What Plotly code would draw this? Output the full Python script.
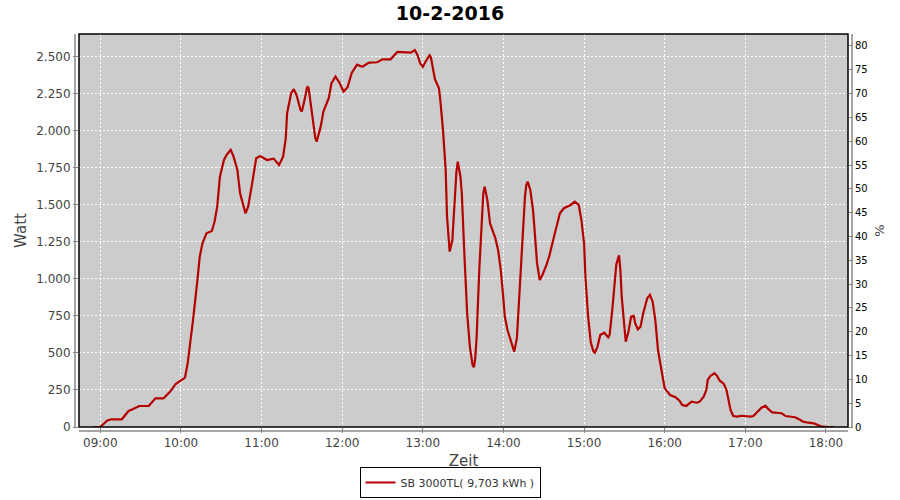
import plotly.graph_objects as go

# Ertrag SB 3000TL am 10.02.2016
day = "2016-02-10"
times = [
    "08:55", "09:00", "09:05", "09:08", "09:16", "09:21", "09:24", "09:29", "09:36", "09:41",
    "09:47", "09:52", "09:56", "09:59", "10:03", "10:05", "10:07", "10:09", "10:12", "10:14",
    "10:16", "10:19", "10:23", "10:25", "10:27", "10:29", "10:32", "10:34", "10:37", "10:39",
    "10:42", "10:44", "10:48", "10:50", "10:53", "10:56", "10:59", "11:04", "11:09", "11:13",
    "11:16", "11:18", "11:19", "11:21", "11:22", "11:24", "11:26", "11:29", "11:30", "11:32",
    "11:34", "11:35", "11:37", "11:40", "11:41", "11:44", "11:46", "11:50", "11:52", "11:55",
    "11:58", "12:01", "12:04", "12:07", "12:11", "12:15", "12:20", "12:26", "12:30", "12:36",
    "12:41", "12:46", "12:51", "12:54", "12:56", "12:58", "13:00", "13:02", "13:05", "13:06",
    "13:09", "13:12", "13:13", "13:15", "13:17", "13:18", "13:19", "13:20", "13:22", "13:23",
    "13:24", "13:25", "13:26", "13:28", "13:29", "13:30", "13:31", "13:33", "13:35", "13:37",
    "13:38", "13:39", "13:40", "13:42", "13:44", "13:45", "13:46", "13:48", "13:50", "13:52",
    "13:54", "13:56", "13:58", "14:00", "14:01", "14:03", "14:06", "14:08", "14:10", "14:11",
    "14:13", "14:14", "14:16", "14:17", "14:18", "14:20", "14:22", "14:23", "14:25", "14:27",
    "14:29", "14:32", "14:34", "14:37", "14:40", "14:42", "14:45", "14:50", "14:53", "14:56",
    "14:58", "15:00", "15:01", "15:03", "15:05", "15:07", "15:08", "15:10", "15:12", "15:15",
    "15:18", "15:19", "15:21", "15:23", "15:24", "15:26", "15:27", "15:28", "15:30", "15:31",
    "15:33", "15:35", "15:37", "15:38", "15:40", "15:42", "15:44", "15:47", "15:49", "15:51",
    "15:53", "15:55", "15:58", "16:00", "16:04", "16:08", "16:11", "16:13", "16:16", "16:20",
    "16:24", "16:26", "16:29", "16:31", "16:32", "16:34", "16:37", "16:39", "16:41", "16:44",
    "16:46", "16:48", "16:49", "16:51", "16:54", "16:57", "17:00", "17:04", "17:06", "17:09",
    "17:12", "17:15", "17:17", "17:20", "17:23", "17:27", "17:30", "17:33", "17:37", "17:40",
    "17:43", "17:47", "17:51", "17:54", "17:57", "18:02", "18:06",
]
watt = [
    0, 0, 43, 52, 52, 108, 120, 142, 142, 194,
    194, 239, 290, 306, 333, 430, 565, 723, 971, 1151,
    1241, 1309, 1324, 1387, 1489, 1691, 1804, 1838, 1872, 1831,
    1737, 1579, 1444, 1489, 1647, 1816, 1831, 1804, 1813, 1770,
    1826, 1950, 2120, 2221, 2255, 2282, 2243, 2142, 2131, 2210,
    2300, 2289, 2142, 1951, 1928, 2029, 2131, 2221, 2322, 2367,
    2326, 2266, 2295, 2390, 2448, 2434, 2462, 2464, 2484, 2484,
    2534, 2529, 2529, 2547, 2514, 2457, 2434, 2468, 2511, 2498,
    2350, 2289, 2210, 2007, 1737, 1421, 1264, 1185, 1264, 1421,
    1624, 1725, 1793, 1691, 1579, 1309, 1150, 768, 543, 420,
    403, 464, 600, 1061, 1466, 1579, 1624, 1534, 1376, 1331,
    1275, 1196, 1061, 860, 745, 655, 560, 509, 600, 768,
    1061, 1286, 1556, 1635, 1658, 1601, 1466, 1350, 1106, 993,
    1027, 1095, 1151, 1264, 1370, 1444, 1478, 1500, 1522, 1500,
    1399, 1241, 1016, 745, 570, 509, 502, 543, 622, 637,
    606, 622, 791, 1000, 1100, 1160, 1061, 881, 655, 576,
    644, 745, 750, 701, 660, 678, 768, 870, 892, 847,
    723, 520, 363, 261, 216, 201, 178, 149, 142, 171,
    164, 171, 205, 250, 318, 345, 363, 345, 313, 291,
    250, 160, 115, 74, 70, 76, 74, 70, 74, 103,
    130, 144, 122, 99, 97, 93, 74, 70, 66, 52,
    36, 29, 25, 14, 2, 0, 0,
]
hour_ticks = ["09:00", "10:00", "11:00", "12:00", "13:00", "14:00",
              "15:00", "16:00", "17:00", "18:00"]
legend_label = "SB 3000TL( 9,703 kWh )"

x = [f"{day} {t}:00" for t in times]
tickvals = [f"{day} {t}:00" for t in hour_ticks]

fig = go.Figure()

fig.add_trace(go.Scatter(
    x=x, y=watt, mode="lines", name=legend_label,
    line=dict(color="#b40000", width=2.2),
))
# empty trace so the % axis gets drawn
fig.add_trace(go.Scatter(x=[], y=[], yaxis="y2", showlegend=False, hoverinfo="skip"))

font = "DejaVu Sans, Verdana, sans-serif"
grid = dict(showgrid=True, gridcolor="white", gridwidth=1, griddash="2px,2px")

fig.update_layout(
    width=900, height=500,
    margin=dict(l=79, r=52, t=34, b=73, autoexpand=False),
    paper_bgcolor="white",
    plot_bgcolor="#cccccc",
    separators=",.",
    font=dict(family=font, color="#444444"),
    title=dict(text="<b>10-2-2016</b>", x=0.5, xanchor="center",
               y=1 - 13 / 500, yref="container", yanchor="middle",
               font=dict(size=19, color="black")),
    xaxis=dict(
        type="date", automargin=False,
        range=[f"{day} 08:44:08", f"{day} 18:16:24"],
        tickvals=tickvals, ticktext=hour_ticks,
        ticks="outside", ticklen=5, tickcolor="#888888",
        tickfont=dict(size=12, color="#444444"),
        title=dict(text="Zeit", font=dict(size=15, color="#444444"), standoff=6),
        showline=False, zeroline=False, **grid,
    ),
    yaxis=dict(
        automargin=False,
        range=[0, 2655], dtick=250, tick0=0, tickformat=",d",
        ticks="outside", ticklen=5, tickcolor="#888888",
        tickfont=dict(size=12, color="#444444"),
        title=dict(text="Watt", font=dict(size=15, color="#444444"), standoff=5),
        showline=False, zeroline=False, **grid,
    ),
    yaxis2=dict(
        overlaying="y", side="right", automargin=False,
        range=[0, 82.5], dtick=5, tick0=0,
        ticks="outside", ticklen=4, tickcolor="#888888",
        tickfont=dict(size=10, color="black"),
        title=dict(text="%", font=dict(size=13, color="#444444"), standoff=8),
        showgrid=False, showline=False, zeroline=False,
    ),
    legend=dict(
        orientation="h", x=(450 - 79) / 769, xanchor="center",
        y=(427 - 498) / 393, yanchor="bottom",
        bordercolor="black", borderwidth=1, bgcolor="white",
        itemwidth=30,
        font=dict(size=11, color="#333333"),
    ),
    shapes=[
        # plot border
        dict(type="rect", xref="paper", yref="paper", x0=0, y0=0, x1=1, y1=1,
             line=dict(color="black", width=1.5), layer="above"),
        # offset axis lines
        dict(type="line", xref="paper", yref="paper", x0=0, x1=1,
             y0=-4 / 393, y1=-4 / 393, line=dict(color="#888888", width=1.5)),
        dict(type="line", xref="paper", yref="paper", x0=-4 / 769, x1=-4 / 769,
             y0=0, y1=1, line=dict(color="#888888", width=1.5)),
        dict(type="line", xref="paper", yref="paper", x0=1 + 4 / 769, x1=1 + 4 / 769,
             y0=0, y1=1, line=dict(color="#888888", width=1.5)),
    ],
    showlegend=True,
)

# the page body has a default 8px margin; drop it so the figure sits at 0,0
fig.write_html("out.html", config={"displayModeBar": False},
               post_script="document.body.style.margin='0';")
